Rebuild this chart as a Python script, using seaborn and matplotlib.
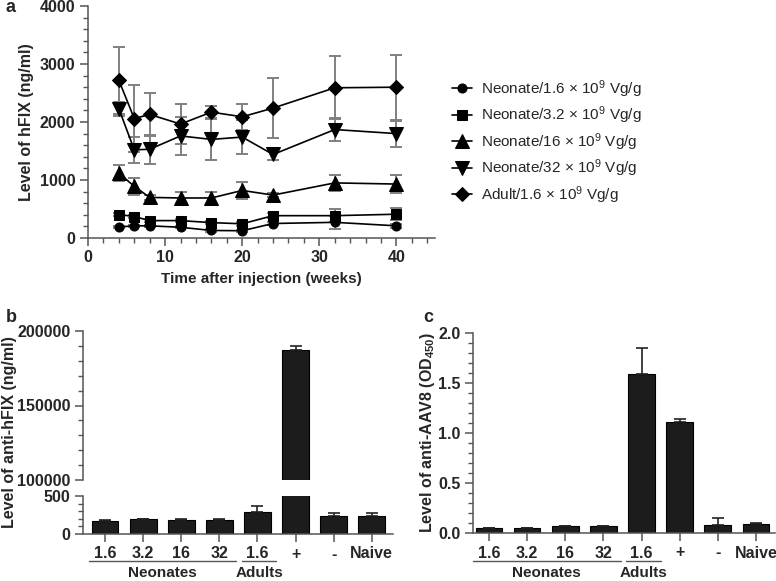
import numpy as np
import matplotlib.pyplot as plt
import matplotlib.transforms as mtransforms
from matplotlib.ticker import MultipleLocator, FormatStrFormatter
import seaborn as sns

sns.set_theme(style="ticks")
plt.rcParams["font.family"] = ["Liberation Sans", "DejaVu Sans"]
plt.rcParams["mathtext.fontset"] = "custom"
plt.rcParams["mathtext.rm"] = "Liberation Sans"
plt.rcParams["mathtext.it"] = "Liberation Sans:italic"
plt.rcParams["mathtext.bf"] = "Liberation Sans:bold"

W, H = 776, 581
dpi = 100
axis_grey = "#555555"

# panel a: hFIX levels over time
weeks = [4, 6, 8, 12, 16, 20, 24, 32, 40]
neo_1_6 = [190, 210, 210, 185, 130, 125, 250, 270, 210]
neo_1_6_err = [20, 20, 20, 20, 20, 20, 30, 115, 30]
neo_3_2 = [405, 370, 300, 300, 265, 245, 385, 385, 410]
neo_3_2_err = [30, 30, 30, 30, 30, 30, 40, 110, 100]
neo_16 = [1120, 890, 700, 690, 690, 820, 740, 950, 930]
neo_16_err = [140, 150, 40, 100, 100, 150, 40, 140, 160]
neo_32 = [2230, 1520, 1530, 1760, 1700, 1740, 1440, 1870, 1800]
neo_32_err = [120, 220, 250, 330, 350, 290, 100, 200, 225]
adult_1_6 = [2720, 2060, 2130, 1965, 2170, 2090, 2240, 2590, 2600]
adult_1_6_err = [580, 580, 370, 340, 100, 225, 520, 540, 560]

series_labels = [
    r"Neonate/1.6 × $10^{9}$ Vg/g",
    r"Neonate/3.2 × $10^{9}$ Vg/g",
    r"Neonate/16 × $10^{9}$ Vg/g",
    r"Neonate/32 × $10^{9}$ Vg/g",
    r"Adult/1.6 × $10^{9}$ Vg/g",
]

# panels b and c: antibody levels
groups = ["N1.6", "N3.2", "N16", "N32", "A1.6", "pos", "neg", "naive"]
group_ticklabels = ["1.6", "3.2", "16", "32", "1.6", "+", "-", "Naive"]
anti_hfix = [170, 195, 190, 178, 290, 187000, 240, 240]
anti_hfix_err = [8, 5, 5, 25, 75, 3000, 30, 30]
anti_aav8 = [0.05, 0.05, 0.067, 0.067, 1.59, 1.11, 0.08, 0.09]
anti_aav8_err = [0.005, 0.005, 0.005, 0.005, 0.26, 0.03, 0.075, 0.01]

TICK_FS = 11.5
LABEL_FS = 11.5


def fx(px):
    return px / W


def fy(py):
    return 1 - py / H


def style_axis(ax):
    sns.despine(ax=ax)
    for s in ["left", "bottom"]:
        ax.spines[s].set_color(axis_grey)
        ax.spines[s].set_linewidth(1.1)
    ax.tick_params(which="major", length=6, width=1.1, color=axis_grey,
                   labelsize=TICK_FS, pad=3)
    ax.tick_params(which="minor", length=3.5, width=1, color=axis_grey)
    for lab in ax.get_xticklabels() + ax.get_yticklabels():
        lab.set_fontweight("bold")


fig = plt.figure(figsize=(W / dpi, H / dpi), dpi=dpi)

# ---- panel a
ax = fig.add_axes([fx(88), fy(238), fx(435) - fx(88), (238 - 6) / H])
data_a = [neo_1_6, neo_3_2, neo_16, neo_32, adult_1_6]
err_a = [neo_1_6_err, neo_3_2_err, neo_16_err, neo_32_err, adult_1_6_err]
markers = ["o", "s", "^", "v", "D"]
msizes = [6.5, 6.5, 10, 10, 7.5]
for vals, errs in zip(data_a, err_a):
    ax.errorbar(weeks, vals, yerr=errs, fmt="none", ecolor="#808080",
                elinewidth=1.4, capsize=4.5, capthick=1.4, zorder=1)
for vals, mk, ms, lab in zip(data_a, markers, msizes, series_labels):
    sns.lineplot(x=weeks, y=vals, marker=mk, markersize=ms, color="black",
                 markeredgecolor="black", linewidth=1.2, errorbar=None,
                 label=lab, ax=ax, zorder=3)
handles, labels = ax.get_legend_handles_labels()
ax.get_legend().remove()
ax.set_xlim(0, 45)
ax.set_ylim(0, 4000)
ax.xaxis.set_major_locator(MultipleLocator(10))
ax.xaxis.set_minor_locator(MultipleLocator(2))
ax.yaxis.set_major_locator(MultipleLocator(1000))
ax.yaxis.set_minor_locator(MultipleLocator(200))
ax.set_xticks([0, 10, 20, 30, 40])
ax.set_xlabel("")
ax.set_ylabel("")
style_axis(ax)
fig.text(fx(261), fy(279), "Time after injection (weeks)", ha="center",
         va="center", fontsize=LABEL_FS - 0.5, fontweight="bold")
fig.text(fx(26), fy(122), "Level of hFIX (ng/ml)", ha="center", va="center",
         rotation=90, fontsize=LABEL_FS, fontweight="bold")
fig.legend(handles, labels, loc="center left",
           bbox_to_anchor=(fx(452), fy(142)), frameon=False, fontsize=11,
           handlelength=1.3, handletextpad=0.6, labelspacing=0.32,
           borderpad=0, borderaxespad=0)


def bars(ax, vals, errs):
    sns.barplot(x=groups, y=vals, order=groups, color="#1c1c1c",
                saturation=1, width=0.7, errorbar=None, edgecolor="black",
                linewidth=0.8, ax=ax)
    ax.errorbar(range(len(groups)), vals,
                yerr=[np.zeros(len(errs)), errs], fmt="none",
                ecolor="#222222", elinewidth=1.2, capsize=4.5, capthick=1.2)
    ax.set_xlabel("")
    ax.set_ylabel("")


def group_labels(ax):
    trans = mtransforms.blended_transform_factory(ax.transData, fig.transFigure)
    for text, x0, x1 in [("Neonates", -0.42, 3.45), ("Adults", 3.6, 4.5)]:
        ax.plot([x0, x1], [fy(561)] * 2, transform=trans, color=axis_grey,
                lw=1, clip_on=False)
        ax.text((x0 + x1) / 2, fy(573), text, transform=trans, ha="center",
                va="center", fontsize=LABEL_FS - 0.5, fontweight="bold")


# ---- panel b (broken axis)
bw = fx(393) - fx(83)
ax_top = fig.add_axes([fx(83), fy(480), bw, (480 - 331) / H])
ax_bot = fig.add_axes([fx(83), fy(534), bw, (534 - 496) / H])
bars(ax_top, anti_hfix, anti_hfix_err)
bars(ax_bot, anti_hfix, anti_hfix_err)
ax_top.set_ylim(100000, 200000)
ax_top.set_yticks([100000, 150000, 200000])
ax_top.yaxis.set_minor_locator(MultipleLocator(10000))
ax_bot.set_ylim(0, 500)
ax_bot.set_yticks([0, 500])
ax_bot.yaxis.set_minor_locator(MultipleLocator(100))
ax_bot.set_xticks(range(len(groups)), group_ticklabels)
style_axis(ax_top)
style_axis(ax_bot)
ax_top.spines["bottom"].set_visible(False)
ax_top.tick_params(axis="x", which="both", bottom=False, labelbottom=False)
group_labels(ax_bot)
for a in (ax_top, ax_bot):
    a.set_xlim(-0.58, 7.56)
fig.text(fx(10), fy(432), "Level of anti-hFIX (ng/ml)", ha="center",
         va="center", rotation=90, fontsize=LABEL_FS, fontweight="bold")

# ---- panel c
ax_c = fig.add_axes([fx(473), fy(533), fx(775) - fx(473), (533 - 333) / H])
bars(ax_c, anti_aav8, anti_aav8_err)
ax_c.set_ylim(0, 2.0)
ax_c.yaxis.set_major_locator(MultipleLocator(0.5))
ax_c.yaxis.set_minor_locator(MultipleLocator(0.1))
ax_c.yaxis.set_major_formatter(FormatStrFormatter("%.1f"))
ax_c.set_xticks(range(len(groups)), group_ticklabels)
style_axis(ax_c)
group_labels(ax_c)
ax_c.set_xlim(-0.42, 7.5)
fig.text(fx(427), fy(433), r"Level of anti-AAV8 (OD$_{\mathbf{450}}$)",
         ha="center", va="center", rotation=90, fontsize=LABEL_FS,
         fontweight="bold")

# panel letters
for letter, x, y in [("a", 6, 8), ("b", 6, 318), ("c", 423, 318)]:
    fig.text(fx(x), fy(y), letter, ha="left", va="center", fontsize=13,
             fontweight="bold")

fig.savefig("out.png", dpi=dpi)
